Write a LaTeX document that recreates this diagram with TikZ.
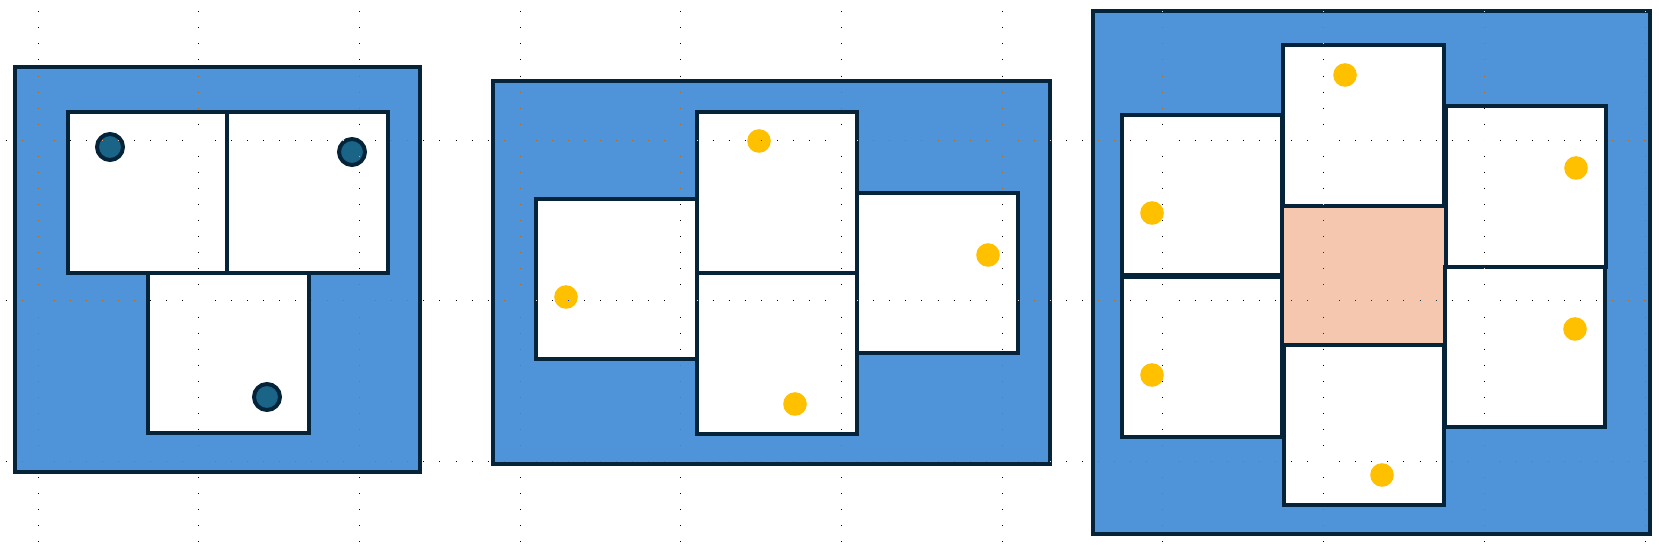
\documentclass[tikz,border=0pt]{standalone}
\definecolor{bgblue}{HTML}{4F94D8}
\definecolor{navy}{HTML}{05243A}
\definecolor{dotblue}{HTML}{1A6488}
\definecolor{gold}{HTML}{FFC000}
\definecolor{peach}{HTML}{F5C7AE}
\begin{document}
\begin{tikzpicture}[x=0.3pt,y=-0.3pt, line width=1.2pt,
  frame/.style={draw=navy, fill=bgblue},
  cell/.style={draw=navy, fill=white},
  darkdot/.style={draw=navy, fill=dotblue},
  golddot/.style={fill=gold},
  griddot/.style={white, line width=0.3pt, dash pattern=on 0.3pt off 4.52pt, blend mode=difference}]
\fill[white] (0,0) rectangle (1659,545);
\useasboundingbox (0,0) rectangle (1659,545);

% ---------- panel 1 ----------
\draw[frame] (15,67) rectangle (420,472);
\draw[cell] (68,112) rectangle (227,273);
\draw[cell] (227,112) rectangle (388,273);
\draw[cell] (148,273) rectangle (309,433);
\draw[darkdot] (110,147) circle[radius=13];
\draw[darkdot] (352,152) circle[radius=13];
\draw[darkdot] (267,397) circle[radius=13];

% ---------- panel 2 ----------
\draw[frame] (493,81) rectangle (1050,464);
\draw[cell] (536,199) rectangle (697,359);
\draw[cell] (697,112) rectangle (857,273);
\draw[cell] (697,273) rectangle (857,434);
\draw[cell] (857,193) rectangle (1018,353);
\fill[golddot] (759,141) circle[radius=11.8];
\fill[golddot] (988,255) circle[radius=11.8];
\fill[golddot] (566,297) circle[radius=11.8];
\fill[golddot] (795,404) circle[radius=11.8];

% ---------- panel 3 ----------
\draw[frame] (1093,11) rectangle (1650,534);
\fill[peach] (1283,206) rectangle (1444,345);
\draw[cell] (1122,115) rectangle (1282,275);
\draw[cell] (1122,277) rectangle (1282,437);
\draw[cell] (1283,45) rectangle (1444,206);
\draw[cell] (1284,345) rectangle (1444,505);
\draw[cell] (1446,106) rectangle (1606,267);
\draw[cell] (1445,267) rectangle (1605,427);
\fill[golddot] (1345,75) circle[radius=11.8];
\fill[golddot] (1152,213) circle[radius=11.8];
\fill[golddot] (1576,168) circle[radius=11.8];
\fill[golddot] (1152,375) circle[radius=11.8];
\fill[golddot] (1575,329) circle[radius=11.8];
\fill[golddot] (1382,475) circle[radius=11.8];

% ---------- dotted grid ----------
\begin{scope}
\clip (0,0) rectangle (1659,545);
\foreach \k in {0,...,10}{
  \draw[griddot] ({38.3+160.67*\k},-4.8) -- ({38.3+160.67*\k},560);
}
\foreach \k in {0,1,2}{
  \draw[griddot] (-10.4,{140.3+160.67*\k}) -- (1670,{140.3+160.67*\k});
}
\end{scope}
\end{tikzpicture}
\end{document}
